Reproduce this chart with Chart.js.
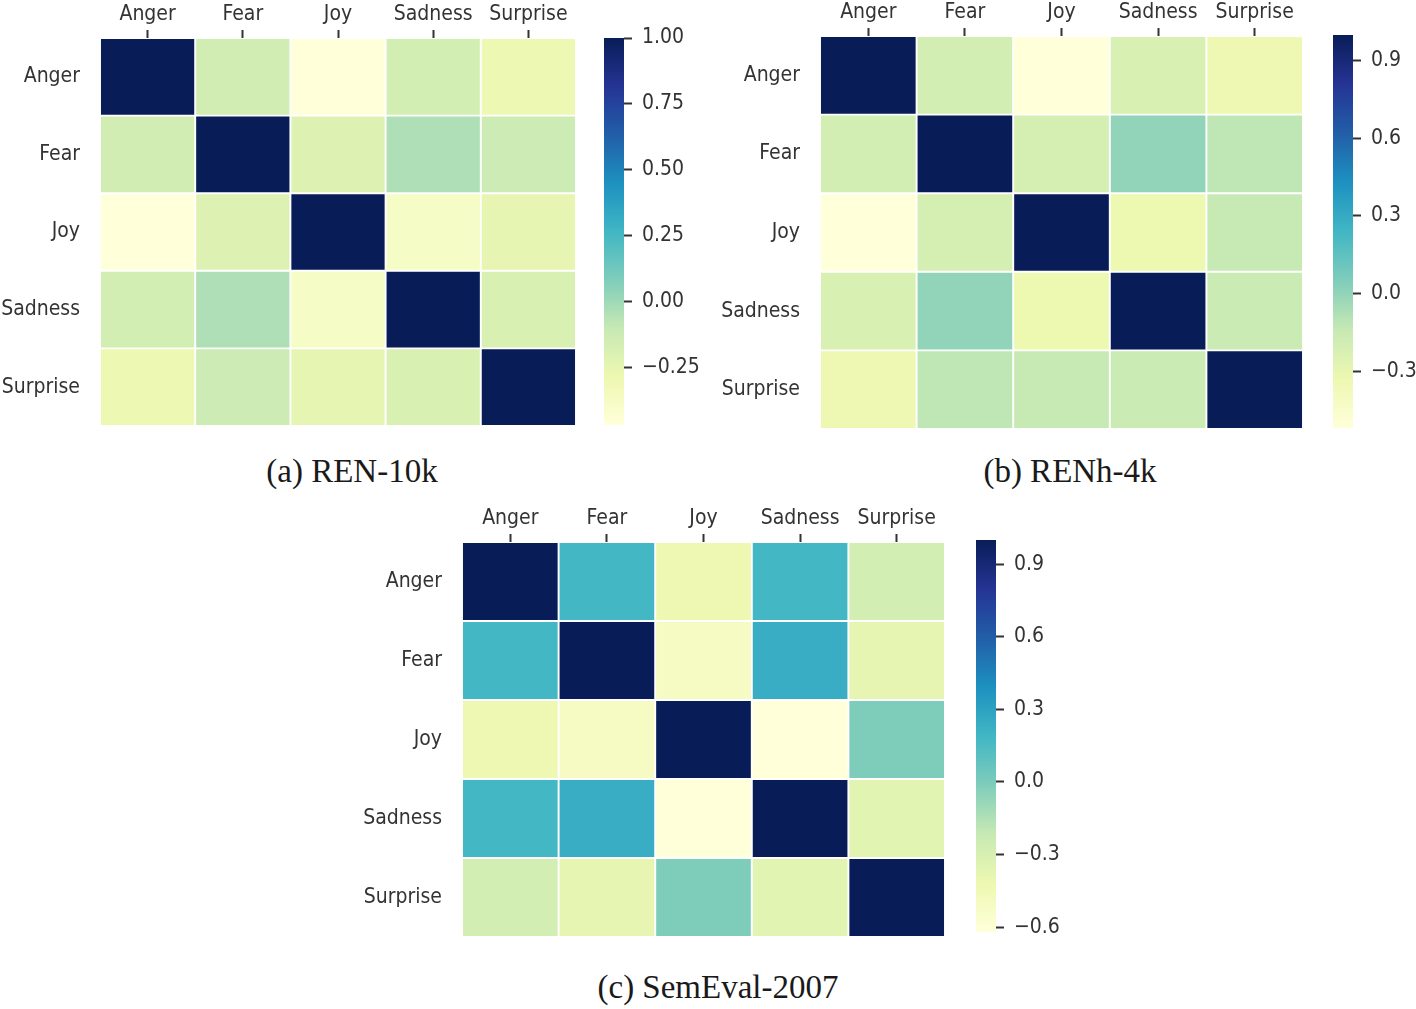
<!DOCTYPE html>
<html>
<head>
<meta charset="utf-8">
<script src="https://cdn.jsdelivr.net/npm/chart.js@4.4.0/dist/chart.umd.min.js"></script>
<style>
  body { margin: 0; background: #fff; width: 1416px; height: 1009px; position: relative; overflow: hidden; }
  canvas { position: absolute; }
  .cap { position: absolute; font-family: 'Liberation Serif', 'DejaVu Serif', serif; font-size: 33px; color: #1a1a1a; transform: translateX(-50%); white-space: nowrap; }
</style>
</head>
<body>
<canvas id="heatA" width="576" height="426" style="left:0px;top:0px"></canvas>
<canvas id="barA" width="120" height="415" style="left:604px;top:24px"></canvas>
<canvas id="heatB" width="603" height="429" style="left:700px;top:0px"></canvas>
<canvas id="barB" width="83" height="421" style="left:1333px;top:21px"></canvas>
<canvas id="heatC" width="605" height="433" style="left:340px;top:504px"></canvas>
<canvas id="barC" width="110" height="420" style="left:976px;top:526px"></canvas>
<div class="cap" style="left:352px;top:453px">(a) REN-10k</div>
<div class="cap" style="left:1070px;top:453px">(b) RENh-4k</div>
<div class="cap" style="left:718px;top:969px">(c) SemEval-2007</div>
<script>
const emotions = ['Anger', 'Fear', 'Joy', 'Sadness', 'Surprise'];

// correlation matrices, rows and columns in the order of emotions
const ren10k = [
  [1.00, -0.15, -0.47, -0.16, -0.29],
  [-0.15, 1.00, -0.21, -0.04, -0.13],
  [-0.47, -0.21, 1.00, -0.38, -0.25],
  [-0.16, -0.04, -0.38, 1.00, -0.19],
  [-0.29, -0.13, -0.25, -0.19, 1.00]
];
const renh4k = [
  [1.00, -0.20, -0.52, -0.23, -0.34],
  [-0.20, 1.00, -0.21, 0.00, -0.12],
  [-0.52, -0.21, 1.00, -0.33, -0.14],
  [-0.23, 0.00, -0.33, 1.00, -0.16],
  [-0.34, -0.12, -0.14, -0.16, 1.00]
];
const semeval = [
  [1.00, 0.18, -0.43, 0.18, -0.28],
  [0.18, 1.00, -0.51, 0.24, -0.38],
  [-0.43, -0.51, 1.00, -0.62, -0.01],
  [0.18, 0.24, -0.62, 1.00, -0.36],
  [-0.28, -0.38, -0.01, -0.36, 1.00]
];

// colourbar ticks
const ticksA = [-0.25, 0, 0.25, 0.5, 0.75, 1.0];
const tickLabelsA = ['\u22120.25', '0.00', '0.25', '0.50', '0.75', '1.00'];
const ticksB = [-0.3, 0, 0.3, 0.6, 0.9];
const tickLabelsB = ['\u22120.3', '0.0', '0.3', '0.6', '0.9'];
const ticksC = [-0.6, -0.3, 0, 0.3, 0.6, 0.9];
const tickLabelsC = ['\u22120.6', '\u22120.3', '0.0', '0.3', '0.6', '0.9'];

// YlGnBu
const ylgnbu = ['#ffffd9', '#edf8b1', '#c7e9b4', '#7fcdbb', '#41b6c4', '#1d91c0', '#225ea8', '#253494', '#081d58'];
const textColour = '#333333';
const tickFont = { family: "'DejaVu Sans Condensed', 'DejaVu Sans'", size: 21 };

function rgb(h) {
  return [1, 3, 5].map(k => parseInt(h.substr(k, 2), 16));
}

function colour(v, lo, hi) {
  let t = Math.min(1, Math.max(0, (v - lo) / (hi - lo))) * (ylgnbu.length - 1);
  const i = Math.min(Math.floor(t), ylgnbu.length - 2);
  const f = t - i;
  const a = rgb(ylgnbu[i]), b = rgb(ylgnbu[i + 1]);
  const c = a.map((x, k) => Math.round(x + (b[k] - x) * f));
  return 'rgb(' + c.join(',') + ')';
}

function range(m) {
  const all = m.flat();
  return [Math.min(...all), Math.max(...all)];
}

// the chart area is placed by the canvas, so drop the label overhang padding
function noPad(s) {
  s.paddingTop = 0; s.paddingBottom = 0; s.paddingLeft = 0; s.paddingRight = 0;
}

function heatmap(id, matrix, leftW, topH) {
  const [lo, hi] = range(matrix);
  new Chart(document.getElementById(id), {
    type: 'bar',
    data: {
      labels: emotions,
      datasets: matrix.map((row, i) => ({
        data: row.map(() => [i, i + 1]),
        backgroundColor: row.map(v => colour(v, lo, hi)),
        borderColor: '#ffffff',
        borderWidth: 1.3,
        borderSkipped: false,
        grouped: false,
        barPercentage: 1,
        categoryPercentage: 1
      }))
    },
    options: {
      responsive: false,
      animation: false,
      layout: { padding: 0 },
      plugins: { legend: { display: false }, tooltip: { enabled: false } },
      scales: {
        x: {
          position: 'top',
          grid: { offset: false, drawOnChartArea: false, tickLength: 8, tickColor: textColour, tickWidth: 2 },
          border: { display: false },
          ticks: { color: textColour, font: tickFont, padding: 3, maxRotation: 0 },
          afterFit: s => { s.height = topH; noPad(s); }
        },
        y: {
          min: 0,
          max: emotions.length,
          reverse: true,
          grid: { display: false, drawTicks: false },
          border: { display: false },
          afterBuildTicks: s => { s.ticks = emotions.map((e, i) => ({ value: i + 0.5 })); },
          ticks: { color: textColour, font: tickFont, padding: 20, callback: v => emotions[Math.floor(v)] },
          afterFit: s => { s.width = leftW; noPad(s); }
        }
      }
    }
  });
}

function colourbar(id, matrix, ticks, labels, barW) {
  const [lo, hi] = range(matrix);
  const canvas = document.getElementById(id);
  new Chart(canvas, {
    type: 'bar',
    data: {
      labels: [''],
      datasets: [{
        data: [[lo, hi]],
        backgroundColor: ctx => {
          const chart = ctx.chart;
          if (!chart.chartArea) return ylgnbu[0];
          const y = chart.scales.y;
          const g = chart.ctx.createLinearGradient(0, y.getPixelForValue(lo), 0, y.getPixelForValue(hi));
          ylgnbu.forEach((c, k) => g.addColorStop(k / (ylgnbu.length - 1), c));
          return g;
        },
        borderWidth: 0,
        barPercentage: 1,
        categoryPercentage: 1
      }]
    },
    options: {
      responsive: false,
      animation: false,
      layout: { padding: { top: 14, bottom: 14 } },
      plugins: { legend: { display: false }, tooltip: { enabled: false } },
      scales: {
        x: { display: false },
        y: {
          position: 'right',
          min: lo,
          max: hi,
          grid: { drawOnChartArea: false, tickLength: 8, tickColor: textColour, tickWidth: 2 },
          border: { display: false },
          afterBuildTicks: s => { s.ticks = ticks.map(v => ({ value: v })); },
          ticks: { color: textColour, font: tickFont, padding: 10, callback: (v, i) => labels[i] },
          afterFit: s => { s.width = canvas.width - barW; noPad(s); }
        }
      }
    }
  });
}

heatmap('heatA', ren10k, 100, 38);
colourbar('barA', ren10k, ticksA, tickLabelsA, 20);
heatmap('heatB', renh4k, 120, 36);
colourbar('barB', renh4k, ticksB, tickLabelsB, 20);
heatmap('heatC', semeval, 122, 38);
colourbar('barC', semeval, ticksC, tickLabelsC, 20);
</script>
</body>
</html>
